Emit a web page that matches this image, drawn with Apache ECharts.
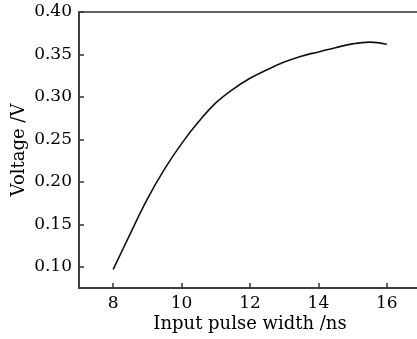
<!DOCTYPE html>
<html>
<head>
<meta charset="utf-8">
<script src="https://cdn.jsdelivr.net/npm/echarts@6/dist/echarts.min.js"></script>
<style>
  html, body { margin: 0; padding: 0; background: #fff; }
  #chart { width: 417px; height: 339px; }
</style>
</head>
<body>
<div id="chart"></div>
<script>
var pulseWidth = [8, 8.5, 9, 9.5, 10, 10.5, 11, 11.5, 12, 12.5, 13, 13.5, 14, 14.5, 15, 15.5, 16];
var voltage = [0.097, 0.139, 0.180, 0.215, 0.245, 0.271, 0.293, 0.309, 0.322, 0.332, 0.341, 0.348, 0.353, 0.358, 0.3625, 0.3645, 0.362];

var xTicks = [8, 10, 12, 14, 16];
var yTicks = [0.10, 0.15, 0.20, 0.25, 0.30, 0.35, 0.40];

var chart = echarts.init(document.getElementById('chart'));

var font = 'DejaVu Serif';
var axisColor = '#333';

var points = pulseWidth.map(function (x, i) { return [x, voltage[i]]; });

chart.setOption({
  animation: false,
  grid: {
    left: 79, top: 12, width: 342, height: 276,
    outerBoundsMode: 'none',
    containLabel: false,
    show: true, borderColor: axisColor, borderWidth: 1.5
  },
  xAxis: {
    type: 'value',
    min: 7, max: 17,
    name: 'Input pulse width /ns',
    nameLocation: 'middle',
    nameGap: 27,
    nameMoveOverlap: false,
    nameTextStyle: { fontFamily: font, fontSize: 18, color: '#000' },
    axisLine: { lineStyle: { color: axisColor, width: 1.5 } },
    axisTick: { inside: true, length: 5, customValues: xTicks, lineStyle: { color: axisColor, width: 1.5 } },
    axisLabel: { customValues: xTicks, fontFamily: font, fontSize: 17, color: '#000', margin: 7 },
    splitLine: { show: false }
  },
  yAxis: {
    type: 'value',
    min: 0.075, max: 0.40,
    name: 'Voltage /V',
    nameLocation: 'middle',
    nameGap: 51,
    nameMoveOverlap: false,
    nameTextStyle: { fontFamily: font, fontSize: 18, color: '#000' },
    axisLine: { lineStyle: { color: axisColor, width: 1.5 } },
    axisTick: { inside: true, length: 5, customValues: yTicks, lineStyle: { color: axisColor, width: 1.5 } },
    axisLabel: {
      customValues: yTicks, fontFamily: font, fontSize: 17, color: '#000', margin: 7,
      formatter: function (v) { return v.toFixed(2); }
    },
    splitLine: { show: false }
  },
  series: [{
    type: 'line',
    data: points,
    smooth: 0.4,
    showSymbol: false,
    lineStyle: { color: '#111', width: 1.6 }
  }]
});
</script>
</body>
</html>
